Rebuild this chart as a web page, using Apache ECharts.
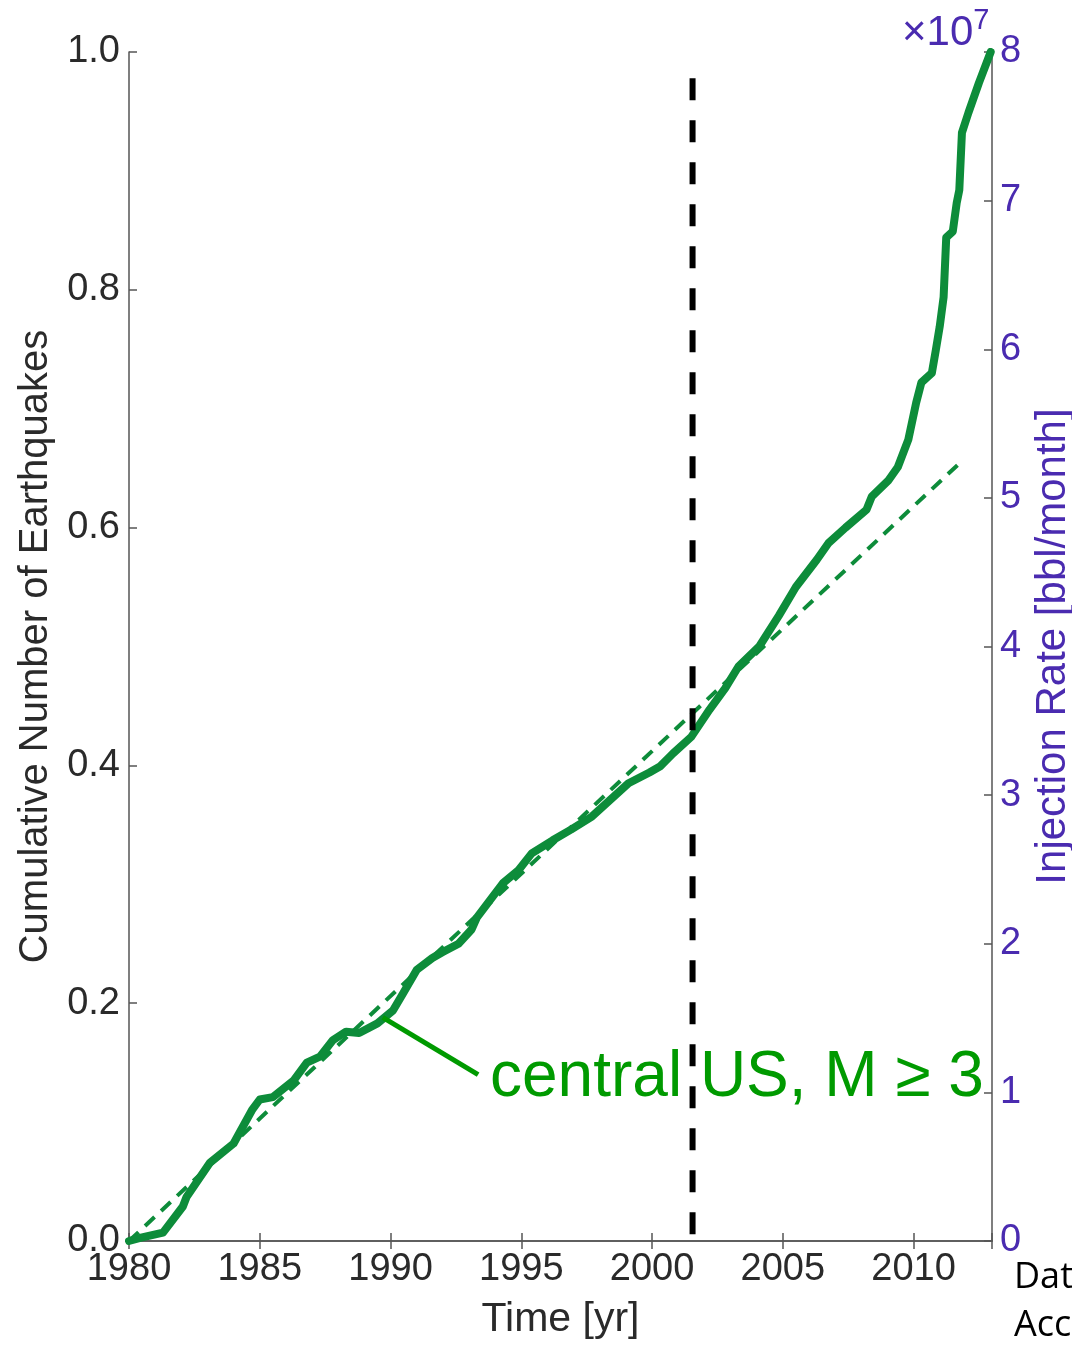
<!DOCTYPE html>
<html>
<head>
<meta charset="utf-8">
<script src="https://cdn.jsdelivr.net/npm/echarts@6/dist/echarts.min.js"></script>
<style>
html,body{margin:0;padding:0;background:#fff;overflow:hidden;}
#chart{width:1072px;height:1345px;}
</style>
</head>
<body>
<div id="chart"></div>
<script>
// Cumulative earthquake curve (normalized)
const quakeYears = [1980.0, 1980.5, 1981.3, 1982.06, 1982.2, 1983.1, 1984.0, 1984.7, 1985.0, 1985.5, 1986.3, 1986.8, 1987.3, 1987.8, 1988.3, 1988.8, 1989.5, 1990.1, 1990.5, 1991.0, 1991.6, 1992.0, 1992.6, 1993.1, 1993.3, 1994.3, 1994.9, 1995.4, 1996.2, 1996.9, 1997.7, 1998.5, 1999.1, 1999.9, 2000.3, 2000.8, 2001.5, 2002.2, 2002.8, 2003.3, 2004.1, 2004.85, 2005.5, 2006.3, 2006.75, 2007.4, 2008.2, 2008.4, 2009.05, 2009.4, 2009.8, 2010.1, 2010.3, 2010.7, 2010.85, 2011.0, 2011.15, 2011.25, 2011.5, 2011.65, 2011.75, 2011.85, 2012.1, 2012.5, 2012.95];
const quakeValues = [0.000, 0.003, 0.007, 0.029, 0.037, 0.066, 0.082, 0.110, 0.119, 0.121, 0.135, 0.150, 0.155, 0.169, 0.176, 0.175, 0.183, 0.194, 0.209, 0.228, 0.238, 0.243, 0.250, 0.262, 0.272, 0.301, 0.312, 0.326, 0.337, 0.346, 0.357, 0.373, 0.385, 0.394, 0.399, 0.410, 0.424, 0.447, 0.465, 0.483, 0.500, 0.526, 0.550, 0.573, 0.587, 0.600, 0.615, 0.626, 0.640, 0.651, 0.674, 0.705, 0.722, 0.730, 0.749, 0.769, 0.794, 0.844, 0.849, 0.873, 0.884, 0.932, 0.949, 0.974, 1.000];
// Linear trend fit
const fitYears = [1980.0, 2011.8];
const fitValues = [0.0, 0.655];
// Vertical marker
const markerYear = 2001.55;
const markerRange = [0.978, 0.0];
// Annotation pointer
const pointerYears = [1989.7, 1993.35];
const pointerValues = [0.188, 0.140];
const annotationText = 'central US, M \u2265 3';
// Axes
const xMin = 1980, xMax = 2013, xStep = 5;
const yTicks = [0.0, 0.2, 0.4, 0.6, 0.8, 1.0];
const rightTicks = [0, 1, 2, 3, 4, 5, 6, 7, 8];

const green = '#0d8c3a';
const purple = '#4a2bb0';
const axisCol = '#555';
const labelCol = '#2a2a2a';
const tickFont = "'Liberation Sans', sans-serif";
const titleFont = "'Liberation Sans', sans-serif";

const chart = echarts.init(document.getElementById('chart'));
const zip = (xs, ys) => xs.map((x, i) => [x, ys[i]]);

const option = {
  animation: false,
  backgroundColor: '#fff',
  grid: {left: 129, right: 80, top: 52, bottom: 104, containLabel: false, outerBoundsMode: 'none'},
  xAxis: [{
    type: 'value', min: xMin, max: xMax, interval: xStep, position: 'bottom',
    name: 'Time [yr]', nameLocation: 'middle', nameGap: 58,
    nameTextStyle: {fontFamily: titleFont, fontSize: 41, color: labelCol},
    axisLine: {show: true, lineStyle: {color: axisCol, width: 1.5}},
    axisTick: {show: true, inside: true, length: 8, lineStyle: {color: axisCol, width: 1.5}},
    axisLabel: {fontFamily: tickFont, fontSize: 38, color: labelCol, margin: 10,
      formatter: v => (Math.abs(v % 5) < 1e-6 ? String(v) : '')},
    splitLine: {show: false}
  }, {
    type: 'value', min: xMin, max: xMax, interval: xStep, position: 'top',
    axisLine: {show: true, lineStyle: {color: axisCol, width: 1.5}},
    axisTick: {show: true, inside: true, length: 8, lineStyle: {color: axisCol, width: 1.5}},
    axisLabel: {show: false}, splitLine: {show: false}
  }],
  yAxis: [{
    type: 'value', min: yTicks[0], max: yTicks[yTicks.length - 1], interval: 0.2, position: 'left',
    name: 'Cumulative Number of Earthquakes', nameLocation: 'middle', nameGap: 66, nameRotate: 90,
    nameTextStyle: {fontFamily: titleFont, fontSize: 40, color: labelCol},
    axisLine: {show: true, lineStyle: {color: axisCol, width: 1.5}},
    axisTick: {show: true, inside: true, length: 8, lineStyle: {color: axisCol, width: 1.5}},
    axisLabel: {fontFamily: tickFont, fontSize: 38, color: labelCol, margin: 9,
      formatter: v => v.toFixed(1)},
    splitLine: {show: false}
  }, {
    type: 'value', min: rightTicks[0], max: rightTicks[rightTicks.length - 1], interval: 1, position: 'right',
    name: 'Injection Rate [bbl/month]', nameLocation: 'middle', nameGap: 37, nameRotate: 90,
    nameTextStyle: {fontFamily: titleFont, fontSize: 42, color: purple},
    axisLine: {show: true, lineStyle: {color: axisCol, width: 1.5}},
    axisTick: {show: true, inside: true, length: 8, lineStyle: {color: axisCol, width: 1.5}},
    axisLabel: {fontFamily: titleFont, fontSize: 38, color: purple, margin: 8},
    splitLine: {show: false}
  }],
  series: [{
    type: 'line', name: 'fit', data: zip(fitYears, fitValues), showSymbol: false, silent: true,
    lineStyle: {color: green, width: 4, type: [13, 9]}, z: 3
  }, {
    type: 'line', name: 'quakes', data: zip(quakeYears, quakeValues), showSymbol: false, silent: true,
    lineStyle: {color: green, width: 8, cap: 'round', join: 'round'}, z: 4
  }, {
    type: 'line', name: 'marker', data: markerRange.map(v => [markerYear, v]), showSymbol: false, silent: true,
    lineStyle: {color: '#000', width: 6, type: [22, 20]}, z: 5
  }, {
    type: 'line', name: 'pointer', data: zip(pointerYears, pointerValues), showSymbol: false, silent: true,
    lineStyle: {color: '#009a00', width: 5}, z: 6
  }],
  graphic: [{
    type: 'text', left: 490, top: 1046, z: 10,
    style: {text: annotationText, fontFamily: titleFont, fontSize: 64, fill: '#009a00'}
  }, {
    type: 'text', left: 902, top: 6, z: 10,
    style: {
      text: '{a|\u00d710}{b|7}', fill: purple,
      rich: {a: {fontFamily: titleFont, fontSize: 42, fill: purple, verticalAlign: 'bottom', lineHeight: 48},
             b: {fontFamily: titleFont, fontSize: 29, fill: purple, verticalAlign: 'top', lineHeight: 48}}
    }
  }, {
    type: 'text', left: 1014, top: 1260, z: 10,
    style: {text: 'Data', fontFamily: "'Open Sans', sans-serif", fontSize: 36, fill: '#000'}
  }, {
    type: 'text', left: 1014, top: 1308, z: 10,
    style: {text: 'Acc', fontFamily: "'Open Sans', sans-serif", fontSize: 36, fill: '#000'}
  }]
};
chart.setOption(option);
</script>
</body>
</html>
